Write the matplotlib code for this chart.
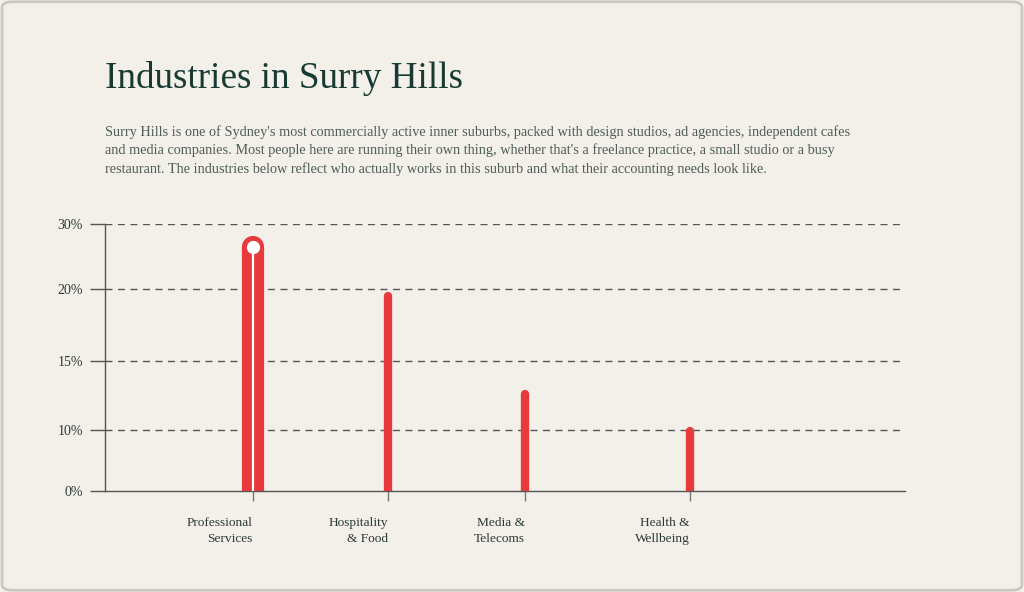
import numpy as np
import matplotlib.pyplot as plt
from matplotlib.patches import FancyBboxPatch

# data
industries = ['Professional\nServices', 'Hospitality\n& Food', 'Media &\nTelecoms', 'Health &\nWellbeing']
share = [26.5, 19.5, 12.6, 9.9]
slot = [1.85, 3.54, 5.25, 7.31]          # where each industry sits along the 0-10 x range
y_ticks = [0, 10, 15, 20, 30]
y_labels = ['0%', '10%', '15%', '20%', '30%']
y_steps = [0, 0.228, 0.487, 0.757, 1.0]  # uneven spacing of the y ticks

title = 'Industries in Surry Hills'
blurb = ("Surry Hills is one of Sydney's most commercially active inner suburbs, packed with design studios, ad agencies, independent cafes\n"
         "and media companies. Most people here are running their own thing, whether that's a freelance practice, a small studio or a busy\n"
         "restaurant. The industries below reflect who actually works in this suburb and what their accounting needs look like.")

bg = '#f3efe9'
red = '#e63a3c'
ink = '#173a33'
grey = '#555555'

plt.rcParams['font.family'] = ['Liberation Serif', 'DejaVu Serif']

fig = plt.figure(figsize=(10.24, 5.92), dpi=100)
fig.patch.set_facecolor(bg)
frame = FancyBboxPatch((0.002, 0.003), 0.996, 0.994, boxstyle='round,pad=0,rounding_size=0.01',
                       transform=fig.transFigure, facecolor=bg, edgecolor='#cbc7c2', linewidth=2, zorder=-5)
fig.patches.append(frame)

fig.text(105 / 1024, 1 - 88 / 592, title, fontsize=26.7, color=ink, ha='left', va='baseline')
fig.text(105 / 1024, 1 - 125 / 592, blurb, fontsize=10.3, color='#4f5d58', ha='left', va='top', linespacing=1.45)

ax = fig.add_axes([105 / 1024, 1 - 491 / 592, 800 / 1024, 267 / 592])
ax.set_facecolor('none')

fwd = lambda v: np.interp(v, y_ticks, y_steps)
inv = lambda v: np.interp(v, y_steps, y_ticks)
ax.set_yscale('function', functions=(fwd, inv))
ax.set_ylim(0, 30)
ax.set_xlim(0, 10)

# bars as rounded strokes, the first one highlighted
for i, (x, v) in enumerate(zip(slot, share)):
    if i == 0:
        ax.plot([x, x], [0, v], color=red, lw=16, solid_capstyle='round', zorder=3)
        ax.plot([x, x], [0, v], color='white', lw=1.6, zorder=4)
        ax.plot([x], [v], 'o', color='white', ms=8.5, zorder=5)
    else:
        ax.plot([x, x], [0, v], color=red, lw=6, solid_capstyle='round', zorder=3)

ax.set_yticks(y_ticks)
ax.set_yticklabels(y_labels)
for t in y_ticks[1:]:
    ax.axhline(t, xmax=0.995, color=grey, lw=1, ls=(0, (5, 4)), zorder=1)

ax.set_xticks(slot)
ax.set_xticklabels(industries, ha='right', multialignment='right', linespacing=1.45)

for s in ['top', 'right']:
    ax.spines[s].set_visible(False)
for s in ['left', 'bottom']:
    ax.spines[s].set_color('#555555')
    ax.spines[s].set_linewidth(1)

ax.tick_params(axis='y', length=11, width=1, color='#555555', labelsize=10, labelcolor='#2a3a36', pad=5)
ax.tick_params(axis='x', length=7, width=1, color='#777777', labelsize=9.6, labelcolor='#2a3a36', pad=12)

fig.savefig('out.png', dpi=100, facecolor=bg)
